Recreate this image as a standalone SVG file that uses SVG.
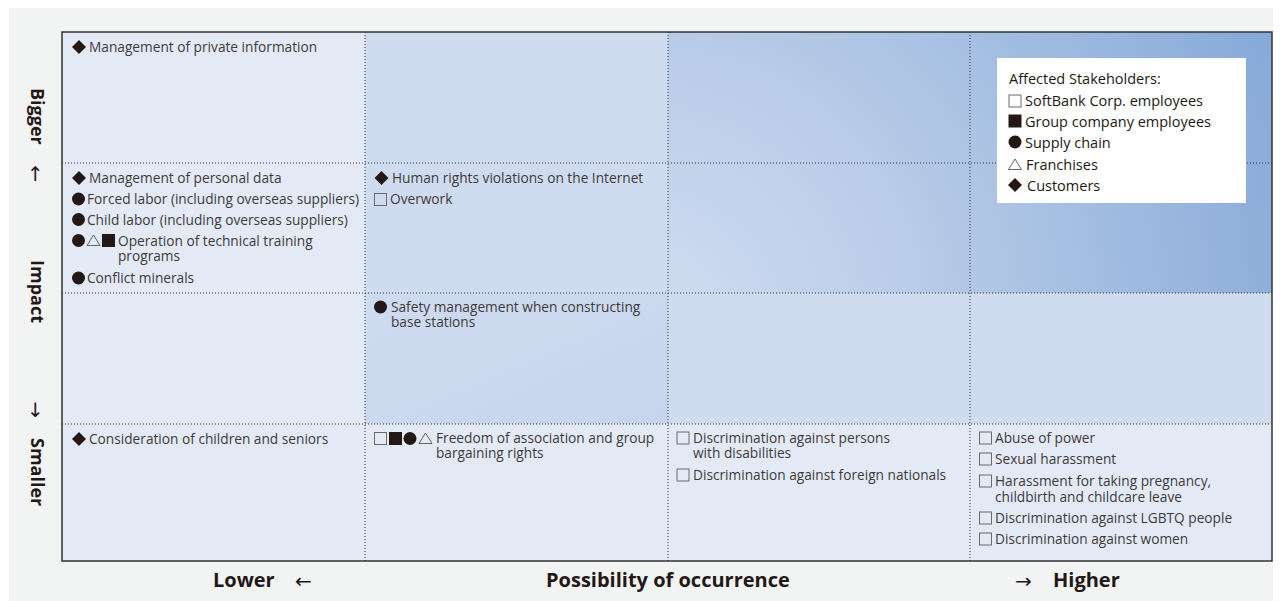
<svg xmlns="http://www.w3.org/2000/svg" xmlns:xlink="http://www.w3.org/1999/xlink" width="1281" height="601" viewBox="0 0 1281 601">
<style>
.t{font-family:"Open Sans","Noto Sans",sans-serif;font-size:13.7px;fill:#3e3a39}
.lg{font-family:"Open Sans","Noto Sans",sans-serif;font-size:14.5px;fill:#231815}
.ax{font-family:"Open Sans","Noto Sans",sans-serif;font-size:20px;font-weight:700;fill:#231815}
.vx{font-family:"Open Sans","Noto Sans",sans-serif;font-size:18px;font-weight:700;fill:#231815}
.ar{font-family:"DejaVu Sans",sans-serif;font-size:20px;fill:#231815}
.div{stroke:#333;stroke-width:1;stroke-dasharray:1 2;fill:none}
</style>
<defs>
<radialGradient id="hot" gradientUnits="userSpaceOnUse" cx="640" cy="330" r="700">
<stop offset="0" stop-color="#d2def2"/>
<stop offset="0.4" stop-color="#b9cce8"/>
<stop offset="1" stop-color="#86a9d8"/>
</radialGradient>
<linearGradient id="mid" x1="0" y1="0" x2="1" y2="1">
<stop offset="0" stop-color="#cfdbf0"/>
<stop offset="1" stop-color="#c6d5ed"/>
</linearGradient>
<polygon id="dia" points="0,-7 7,0 0,7 -7,0" fill="#231815"/>
<circle id="cir" r="6.5" fill="#231815"/>
<rect id="sqo" x="-6" y="-6" width="12" height="12" fill="none" stroke="#6b6b6b" stroke-width="1"/>
<rect id="sqf" x="-6.5" y="-6.5" width="13" height="13" fill="#231815"/>
<polygon id="tri" points="0,-5.5 6.5,5 -6.5,5" fill="none" stroke="#555" stroke-width="0.9"/>
</defs>

<rect x="9" y="8" width="1264" height="593" fill="#f2f3f3"/>

<g id="cells">
<rect x="62" y="32" width="303" height="529" fill="#e3eaf6"/>
<rect x="365" y="32" width="303" height="261" fill="#cfdcf0"/>
<rect x="365" y="293" width="303" height="131" fill="url(#mid)"/>
<rect x="668" y="32" width="604" height="261" fill="url(#hot)"/>
<rect x="668" y="293" width="604" height="131" fill="#cfdcf0"/>
<rect x="365" y="424" width="907" height="137" fill="#e3eaf6"/>
</g>

<g id="grid-lines">
<line class="div" x1="365" y1="32" x2="365" y2="561"/>
<line class="div" x1="668" y1="32" x2="668" y2="561"/>
<line class="div" x1="970" y1="32" x2="970" y2="561"/>
<line class="div" x1="62" y1="163" x2="1272" y2="163"/>
<line class="div" x1="62" y1="293" x2="1272" y2="293"/>
<line class="div" x1="62" y1="424" x2="1272" y2="424"/>
<rect x="62" y="32" width="1210" height="529" fill="none" stroke="#333" stroke-width="1.5"/>
</g>

<g id="cell-r1c1">
<use xlink:href="#dia" x="79" y="47"/>
<text class="t" x="89" y="52">Management of private information</text>
</g>

<g id="cell-r2c1">
<use xlink:href="#dia" x="79" y="178"/>
<text class="t" x="89" y="183">Management of personal data</text>
<use xlink:href="#cir" x="78.5" y="199"/>
<text class="t" x="87" y="204">Forced labor (including overseas suppliers)</text>
<use xlink:href="#cir" x="78.5" y="219.5"/>
<text class="t" x="87" y="224.5">Child labor (including overseas suppliers)</text>
<use xlink:href="#cir" x="78.5" y="240.5"/>
<use xlink:href="#tri" x="93.5" y="240.5"/>
<use xlink:href="#sqf" x="108.5" y="240.5"/>
<text class="t" x="118" y="245.5">Operation of technical training<tspan x="118" dy="15.5">programs</tspan></text>
<use xlink:href="#cir" x="78.5" y="278"/>
<text class="t" x="87" y="283">Conflict minerals</text>
</g>

<g id="cell-r2c2">
<use xlink:href="#dia" x="381.5" y="178"/>
<text class="t" x="392" y="183">Human rights violations on the Internet</text>
<use xlink:href="#sqo" x="380.5" y="199.5"/>
<text class="t" x="390" y="204">Overwork</text>
</g>

<g id="cell-r3c2">
<use xlink:href="#cir" x="380.5" y="307"/>
<text class="t" x="391" y="312">Safety management when constructing<tspan x="391" dy="15">base stations</tspan></text>
</g>

<g id="cell-r4c1">
<use xlink:href="#dia" x="79" y="439"/>
<text class="t" x="89" y="444">Consideration of children and seniors</text>
</g>

<g id="cell-r4c2">
<use xlink:href="#sqo" x="380.5" y="438.5"/>
<use xlink:href="#sqf" x="395.5" y="438.5"/>
<use xlink:href="#cir" x="410" y="438.5"/>
<use xlink:href="#tri" x="425.5" y="438.5"/>
<text class="t" x="436" y="443">Freedom of association and group<tspan x="436" dy="15">bargaining rights</tspan></text>
</g>

<g id="cell-r4c3">
<use xlink:href="#sqo" x="683" y="438"/>
<text class="t" x="693" y="443">Discrimination against persons<tspan x="693" dy="15">with disabilities</tspan></text>
<use xlink:href="#sqo" x="683" y="475"/>
<text class="t" x="693" y="480">Discrimination against foreign nationals</text>
</g>

<g id="cell-r4c4">
<use xlink:href="#sqo" x="985.5" y="438"/>
<text class="t" x="995" y="443">Abuse of power</text>
<use xlink:href="#sqo" x="985.5" y="459"/>
<text class="t" x="995" y="464">Sexual harassment</text>
<use xlink:href="#sqo" x="985.5" y="481"/>
<text class="t" x="995" y="486">Harassment for taking pregnancy,<tspan x="995" dy="16">childbirth and childcare leave</tspan></text>
<use xlink:href="#sqo" x="985.5" y="518"/>
<text class="t" x="995" y="523">Discrimination against LGBTQ people</text>
<use xlink:href="#sqo" x="985.5" y="539"/>
<text class="t" x="995" y="544">Discrimination against women</text>
</g>

<g id="legend">
<rect x="997" y="58" width="249" height="145" fill="#fff"/>
<text class="lg" x="1009" y="84">Affected Stakeholders:</text>
<use xlink:href="#sqo" x="1015" y="101"/>
<text class="lg" x="1025" y="106">SoftBank Corp. employees</text>
<use xlink:href="#sqf" x="1015" y="121"/>
<text class="lg" x="1025" y="127">Group company employees</text>
<use xlink:href="#cir" x="1015" y="142"/>
<text class="lg" x="1025" y="148">Supply chain</text>
<use xlink:href="#tri" x="1015" y="164.5"/>
<text class="lg" x="1026" y="170">Franchises</text>
<use xlink:href="#dia" x="1015" y="185"/>
<text class="lg" x="1027" y="191">Customers</text>
</g>

<g id="axis-y">
<text class="vx" transform="translate(31,88) rotate(90)">Bigger</text>
<text class="ar" x="35.5" y="181" text-anchor="middle">↑</text>
<text class="vx" transform="translate(31,260) rotate(90)">Impact</text>
<text class="ar" x="35.5" y="417" text-anchor="middle">↓</text>
<text class="vx" transform="translate(31,438) rotate(90)">Smaller</text>
</g>

<g id="axis-x">
<text class="ax" x="213" y="587">Lower</text>
<text class="ar" x="295" y="588">←</text>
<text class="ax" x="546" y="587">Possibility of occurrence</text>
<text class="ar" x="1015" y="588">→</text>
<text class="ax" x="1053" y="587">Higher</text>
</g>
</svg>
